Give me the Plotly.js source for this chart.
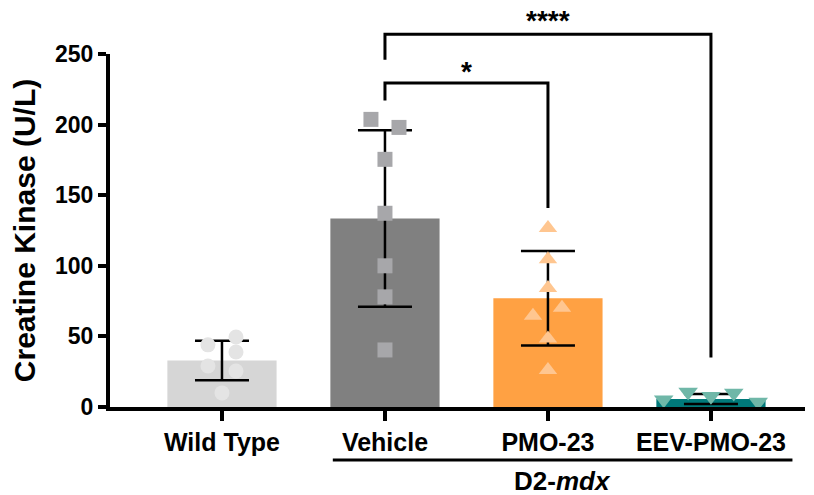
<!DOCTYPE html>
<html>
<head>
<meta charset="utf-8">
<script src="https://cdn.plot.ly/plotly-3.0.1.min.js"></script>
<style>html,body{margin:0;padding:0;background:#fff;}#chart{width:814px;height:495px;}</style>
</head>
<body>
<div id="chart"></div>
<script>
// ---- data ----
const categories = ['Wild Type', 'Vehicle', 'PMO-23', 'EEV-PMO-23'];
const means = [33, 133.5, 77, 5.7];
const sds = [14, 62.5, 33.5, 3.5];

const wtValues = [44, 49.6, 39, 29, 25.5, 10];
const wtJitter = [-0.086, 0.086, 0.086, -0.086, 0.086, 0];
const vehicleValues = [203.7, 198, 175.4, 137.2, 100, 78, 40.4];
const vehicleJitter = [-0.086, 0.086, 0, 0, 0, 0, 0];
const pmoValues = [126.8, 104.6, 84.3, 70.3, 64.7, 48.6, 26.2];
const pmoJitter = [0, 0, 0, 0.086, -0.092, 0, 0];
const eevValues = [5.2, 10.6, 7.6, 9.9, 3.5];
const eevJitter = [-0.29, -0.14, 0, 0.14, 0.29];

// significance comparisons (category indices, bracket heights in data units)
const sigFrom = [1, 1];
const sigTo = [3, 2];
const sigLabels = ['****', '*'];
const sigTop = [264, 229.5];
const sigLeftEnd = [246, 217];
const sigRightEnd = [35, 141];
const sigLabelY = [273.5, 237.5];

const groupLabel = 'D2-<i>mdx</i>';

// ---- styles ----
const barColors = ['#d6d6d6', '#808080', '#ffa143', '#00797a'];
const ptColors = ['#e4e4e4', '#a7a7aa', '#ffc690', '#6fb7a8'];
const ptSymbols = ['circle', 'square', 'triangle-up', 'triangle-down'];
const ptSizes = [15, 15, 16, 17];
const FONT = 'Arial, "Liberation Sans", Helvetica, sans-serif';

const Y_MAX = 250;
const yPaper = v => v / Y_MAX;

const traces = [{
  type: 'bar',
  x: categories.map((c, i) => i),
  y: means,
  width: 0.67,
  marker: {color: barColors, line: {width: 0}},
  error_y: {type: 'data', array: sds, visible: true, color: '#000', thickness: 2.5, width: 27},
  hoverinfo: 'skip'
}];

const groups = [
  [wtValues, wtJitter],
  [vehicleValues, vehicleJitter],
  [pmoValues, pmoJitter],
  [eevValues, eevJitter]
];
groups.forEach(([vals, jit], gi) => {
  traces.push({
    type: 'scatter', mode: 'markers',
    x: vals.map((v, k) => gi + jit[k]),
    y: vals,
    cliponaxis: false,
    marker: {symbol: ptSymbols[gi], size: ptSizes[gi], color: ptColors[gi], line: {width: 0}},
    hoverinfo: 'skip'
  });
});

const shapes = [];
const annotations = [];
sigFrom.forEach((a, k) => {
  const b = sigTo[k];
  shapes.push({
    type: 'path', xref: 'x', yref: 'paper',
    path: `M ${a} ${yPaper(sigLeftEnd[k])} L ${a} ${yPaper(sigTop[k])} L ${b} ${yPaper(sigTop[k])} L ${b} ${yPaper(sigRightEnd[k])}`,
    line: {color: '#000', width: 3}
  });
  annotations.push({
    xref: 'x', yref: 'paper', x: (a + b) / 2, y: yPaper(sigLabelY[k]),
    text: sigLabels[k], showarrow: false, yanchor: 'middle',
    font: {family: FONT, size: 28, color: '#000', weight: 'bold'}
  });
});
// D2-mdx group line
shapes.push({type: 'line', xref: 'x', yref: 'paper', x0: 0.68, x1: 3.5, y0: -0.15, y1: -0.15,
  line: {color: '#000', width: 3}});
annotations.push({xref: 'x', yref: 'paper', x: 2.09, y: -0.21, text: groupLabel, showarrow: false,
  yanchor: 'middle', font: {family: FONT, size: 26, color: '#000', weight: 'bold'}});

const layout = {
  width: 814, height: 495,
  margin: {l: 110, r: 9, t: 54, b: 88},
  paper_bgcolor: '#fff', plot_bgcolor: '#fff',
  showlegend: false,
  xaxis: {
    range: [-0.687, 3.577], tickvals: [0, 1, 2, 3], ticktext: categories,
    showline: true, linewidth: 4, linecolor: '#000',
    ticks: 'outside', ticklen: 10, tickwidth: 4, tickcolor: '#000',
    showgrid: false, zeroline: false, fixedrange: true,
    tickfont: {family: FONT, size: 25, color: '#000', weight: 'bold'}
  },
  yaxis: {
    range: [0, Y_MAX], tickvals: [0, 50, 100, 150, 200, 250],
    showline: true, linewidth: 4, linecolor: '#000',
    ticks: 'outside', ticklen: 8, tickwidth: 4, tickcolor: '#000',
    showgrid: false, zeroline: false, fixedrange: true,
    tickfont: {family: FONT, size: 23, color: '#000', weight: 'bold'},
    title: {text: 'Creatine Kinase (U/L)', standoff: 12,
      font: {family: FONT, size: 30, color: '#000', weight: 'bold'}}
  },
  shapes: shapes,
  annotations: annotations
};

Plotly.newPlot('chart', traces, layout, {displayModeBar: false, staticPlot: true});
</script>
</body>
</html>
